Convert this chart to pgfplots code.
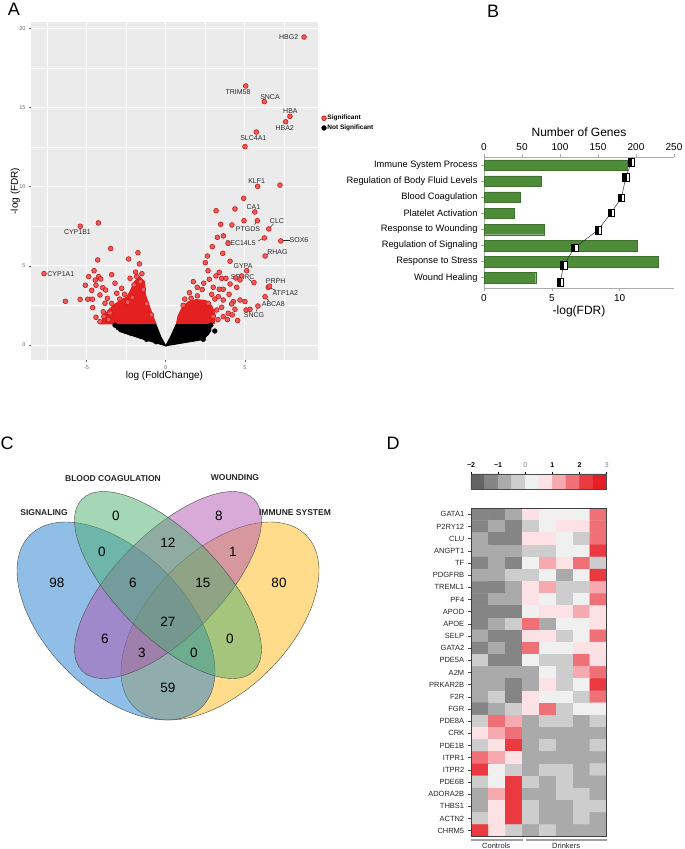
\documentclass[border=0pt]{standalone}
\usepackage{fontspec}
\setmainfont{Liberation Sans}
\usepackage{pgfplots}
\pgfplotsset{compat=1.18}
\usetikzlibrary{plotmarks,shapes.geometric}
\definecolor{ggbg}{RGB}{235,235,235}
\definecolor{sigfill}{RGB}{236,92,92}
\definecolor{sigdraw}{RGB}{200,25,25}
\definecolor{sigarea}{RGB}{228,32,32}
\definecolor{barg}{RGB}{78,140,58}
\definecolor{vblue}{RGB}{35,125,205}
\definecolor{vgreen}{RGB}{75,175,110}
\definecolor{vpurple}{RGB}{175,85,175}
\definecolor{vyellow}{RGB}{255,185,25}
\definecolor{glab}{RGB}{40,40,40}
\newcommand{\fs}[1]{\fontsize{#1}{#1}\selectfont}
\tikzset{vennE/.style={ellipse, draw=black!70, line width=0.4pt, fill opacity=0.5, draw opacity=1, inner sep=0pt, outer sep=0pt}}
\pgfdeclareplotmark{hsq}{%
  \pgfpathrectangle{\pgfpoint{-\pgfplotmarksize}{-1.2\pgfplotmarksize}}{\pgfpoint{2\pgfplotmarksize}{2.4\pgfplotmarksize}}%
  \pgfsetfillcolor{white}\pgfusepath{fill,stroke}%
  \pgfpathrectangle{\pgfpoint{-\pgfplotmarksize}{-1.2\pgfplotmarksize}}{\pgfpoint{\pgfplotmarksize}{2.4\pgfplotmarksize}}%
  \pgfsetfillcolor{black}\pgfusepath{fill,stroke}%
}
\pgfplotsset{
  hmcolors/.style={colormap={hm}{rgb255=(100,100,100) rgb255=(133,133,133) rgb255=(170,170,170) rgb255=(205,205,205) rgb255=(240,240,240) rgb255=(252,226,228) rgb255=(246,170,176) rgb255=(240,112,120) rgb255=(234,58,64) rgb255=(228,30,36)}},
}
\begin{document}
\begin{tikzpicture}
\useasboundingbox (0,0) rectangle (685pt,-849pt);
% panel letters
\node[font=\fs{18}] at (14pt,-9pt) {A};
\node[font=\fs{18}] at (493pt,-11pt) {B};
\node[font=\fs{18}] at (7pt,-443pt) {C};
\node[font=\fs{18}] at (393pt,-443pt) {D};

% ---------------- Panel A: volcano ----------------
\begin{axis}[
  at={(31pt,-360pt)}, anchor=south west, scale only axis,
  width=287pt, height=338pt,
  xmin=-8.5, xmax=9.61, ymin=-0.95, ymax=20.4,
  axis background/.style={fill=ggbg},
  axis line style={draw=none},
  xtick={-5,0,5}, ytick={0,5,10,15,20},
  minor xtick={-7.5,-2.5,2.5,7.5}, minor ytick={2.5,7.5,12.5,17.5},
  grid=both,
  major grid style={white, line width=0.9pt},
  minor grid style={white, line width=0.45pt},
  tick pos=left, tick align=outside, major tick length=2pt, minor tick length=0pt,
  tick style={draw=gray!80!black, line width=0.5pt},
  /pgf/number format/assume math mode=true,
  tick label style={font=\fs{5.5}, text=gray!80!black},
  xlabel={log (FoldChange)}, ylabel={-log (FDR)},
  label style={font=\fs{10}},
  xlabel style={at={(axis description cs:0.465,-0.047)}, anchor=center},
  ylabel style={at={(axis description cs:-0.055,0.5)}, anchor=center},
  legend style={at={(axis description cs:1.012,0.728)}, anchor=north west, draw=none, fill=none,
    font=\fs{6.5}\bfseries, row sep=1.5pt, inner sep=0pt, nodes={inner sep=1pt}},
  legend cell align=left,
]
% dense clouds
\addplot[fill=black, draw=black, line width=1pt, forget plot] coordinates {
 (0,-0.05) (-1.6,0.42) (-2.9,0.85) (-3.25,1.2) (-3.1,1.38) (-0.65,1.38) (-0.3,0.5) (0,-0.05)} -- cycle;
\addplot[fill=black, draw=black, line width=1pt, forget plot] coordinates {
 (0,-0.05) (2.4,0.35) (2.85,0.9) (2.85,1.3) (0.7,1.38) (0.3,0.5) (0,-0.05)} -- cycle;
\addplot[fill=sigarea, draw=sigarea, line width=1.5pt, forget plot] coordinates {
 (-4.05,1.35) (-3.95,1.75) (-3.6,2.2) (-3.2,2.55) (-2.8,2.85) (-2.45,3.0) (-2.2,3.45) (-1.95,4.0)
 (-1.65,4.3) (-1.35,4.0) (-1.3,3.2) (-1.1,2.6) (-0.85,1.9) (-0.65,1.38)} -- cycle;
\addplot[fill=sigarea, draw=sigarea, line width=1.5pt, forget plot] coordinates {
 (0.7,1.38) (0.8,1.85) (1.05,2.35) (1.4,2.7) (1.9,2.85) (2.5,2.8) (2.9,2.45) (3.1,1.9) (3.05,1.38)} -- cycle;
% significant points
\addplot[only marks, mark=*, mark size=2.4pt, mark options={fill=sigfill, draw=sigdraw, line width=0.6pt}] coordinates {
 (8.73,19.45) (5.05,16.36) (6.22,15.37) (7.84,14.44) (7.57,14.10) (5.72,13.45) (5.00,12.53)
 (5.80,10.02) (7.21,10.10) (4.92,9.26) (5.62,8.40) (3.18,8.48) (4.37,8.59) (4.94,7.85) (5.78,7.85)
 (6.50,7.33) (3.47,7.62) (4.18,7.58) (3.64,6.89) (3.26,6.80) (6.22,6.76) (3.93,6.42) (7.26,6.57)
 (2.94,6.21) (3.60,5.79) (2.63,5.62) (6.27,5.62) (4.06,5.29) (2.50,5.20) (5.11,4.69) (2.67,4.69)
 (3.38,4.59) (3.17,4.36) (3.53,4.21) (3.80,4.21) (4.42,4.23) (4.79,4.36) (4.69,4.11) (5.57,3.94)
 (6.47,3.64) (6.55,3.72) (2.75,4.15) (1.74,4.00) (1.99,3.64) (3.00,3.64) (3.38,3.52) (3.63,3.52)
 (4.06,3.85) (4.48,3.64) (6.27,3.05) (5.82,2.46) (4.27,2.74) (4.69,2.84) (5.00,2.74) (5.07,2.21)
 (4.37,2.25) (3.95,2.00) (3.63,1.79) (4.16,2.59) (3.53,2.38) (3.22,2.21) (3.63,2.84) (3.32,3.05)
 (2.69,2.63) (5.32,2.25) (4.54,1.54) (3.90,1.60) (4.20,1.90) (2.90,3.20) (2.30,3.50) (1.50,3.30)
 (1.20,2.90) (2.00,3.10) (3.10,2.90) (4.00,3.20) (2.4,3.9) (1.1,2.5) (1.6,2.95) (3.3,1.6) (3.0,1.8)
 (-5.39,7.50) (-4.25,7.71) (-3.47,6.09) (-4.29,5.37) (-2.34,5.43) (-1.75,5.83) (-1.66,5.12)
 (-4.52,4.69) (-4.86,4.32) (-4.23,4.32) (-4.10,4.17) (-4.44,4.10) (-3.41,4.44) (-5.07,3.77)
 (-4.67,3.45) (-4.40,3.77) (-3.98,3.62) (-3.79,3.47) (-4.15,3.16) (-4.92,2.89) (-4.63,2.89)
 (-4.61,2.36) (-4.40,1.75) (-4.15,1.47) (-3.51,2.02) (-2.78,3.58) (-2.25,4.21) (-1.83,4.32)
 (-3.09,3.27) (-3.68,2.95) (-3.41,2.63) (-3.83,2.63) (-3.94,2.10) (-7.68,4.51) (-6.33,2.76)
 (-5.40,2.88) (-3.20,3.90) (-2.90,2.90) (-2.60,3.20) (-2.00,3.80) (-1.60,4.00) (-1.40,3.50)
 (-3.60,1.60) (-3.90,1.80) (-2.40,2.70) (-1.2,2.6) (-0.9,1.9) (-1.5,4.5) (-1.9,4.6) (-2.1,3.0)
};
\addlegendentry{Significant}
\addplot[only marks, mark=*, mark size=2.4pt, mark options={fill=black, draw=black}] coordinates {
 (3.10,0.88) (2.37,0.36) (2.70,1.05) (2.85,1.25) (-3.20,1.25) (-3.00,1.10) (-2.60,0.90)
 (-2.20,0.75) (2.20,0.50) (1.80,0.40) (-1.20,0.35) (-0.60,0.20) (0.50,0.15) (1.20,0.30) (2.60,0.75)
};
\addlegendentry{Not Significant}
% gene labels
\begin{scope}[every node/.style={font=\fs{7}, text=glab, inner sep=0.5pt}]
\node at (axis cs:7.76,19.43) {HBG2};
\node at (axis cs:4.56,15.96) {TRIM58};
\node at (axis cs:6.58,15.66) {SNCA};
\node at (axis cs:7.87,14.78) {HBA};
\node at (axis cs:7.51,13.73) {HBA2};
\node at (axis cs:5.53,13.07) {SLC4A1};
\node at (axis cs:5.74,10.34) {KLF1};
\node at (axis cs:5.53,8.74) {CA1};
\node at (axis cs:5.19,7.35) {PTGDS};
\node at (axis cs:7.02,7.85) {CLC};
\node at (axis cs:4.73,6.42) {SEC14L5};
\node at (axis cs:8.41,6.61) {SOX6};
\node at (axis cs:7.05,5.89) {RHAG};
\node at (axis cs:4.88,5.01) {GYPA};
\node at (axis cs:4.86,4.29) {SPARC};
\node at (axis cs:6.94,4.06) {PRPH};
\node at (axis cs:7.55,3.26) {ATP1A2};
\node at (axis cs:6.79,2.59) {ABCA8};
\node at (axis cs:5.57,1.87) {SNCG};
\node at (axis cs:-5.57,7.12) {CYP1B1};
\node at (axis cs:-6.62,4.46) {CYP1A1};
\end{scope}
\draw[glab, line width=0.5pt] (axis cs:7.35,6.61) -- (axis cs:7.85,6.61);
\draw[glab, line width=0.5pt] (axis cs:6.55,7.38) -- (axis cs:6.8,7.65);
\draw[glab, line width=0.5pt] (axis cs:5.75,7.8) -- (axis cs:5.6,7.6);
\draw[glab, line width=0.5pt] (axis cs:6.15,6.74) -- (axis cs:5.8,6.55);
\draw[glab, line width=0.5pt] (axis cs:6.3,5.66) -- (axis cs:6.55,5.8);
\draw[glab, line width=0.5pt] (axis cs:6.3,3.0) -- (axis cs:6.5,2.8);
\draw[glab, line width=0.5pt] (axis cs:5.8,2.4) -- (axis cs:5.72,2.12);
\draw[glab, line width=0.5pt] (axis cs:6.6,3.6) -- (axis cs:6.95,3.45);
\draw[glab, line width=0.5pt] (axis cs:5.5,3.95) -- (axis cs:5.25,4.15);
\end{axis}

% ---------------- Panel B ----------------
\begin{axis}[
  at={(484pt,-288pt)}, anchor=south west, scale only axis, width=190pt, height=131pt,
  xbar, bar width=10.5pt,
  xmin=0, xmax=250, ymin=-0.5, ymax=7.64, y dir=reverse,
  axis x line=top, axis y line=left,
  axis line style={-, draw=gray!65, line width=0.6pt},
  xtick={0,50,...,250}, ytick={0,...,7},
  yticklabels={Immune System Process, Regulation of Body Fluid Levels, Blood Coagulation, Platelet Activation, Response to Wounding, Regulation of Signaling, Response to Stress, Wound Healing},
  tick align=outside, major tick length=3pt, tick style={draw=gray!65, line width=0.6pt},
  /pgf/number format/assume math mode=true,
  xticklabel style={font=\fs{10}},
  yticklabel style={font=\fs{9.3}},
  xlabel={Number of Genes}, xlabel style={font=\fs{12}},
]
\addplot[fill=barg, draw=barg!80!black, line width=0.3pt] coordinates {
 (188,0) (75,1) (48,2) (40,3) (79,4) (202,5) (229,6) (68,7)};
\end{axis}
\begin{axis}[
  at={(484pt,-288pt)}, anchor=south west, scale only axis, width=190pt, height=131pt,
  xmin=0, xmax=14.0, ymin=-0.5, ymax=7.64, y dir=reverse,
  axis x line=bottom, axis y line=none,
  axis line style={-, draw=gray!65, line width=0.6pt},
  xtick={0,5,10}, ytick=\empty,
  tick align=outside, major tick length=3pt, tick style={draw=gray!65, line width=0.6pt},
  /pgf/number format/assume math mode=true,
  xticklabel style={font=\fs{10}},
  xlabel={-log(FDR)}, xlabel style={font=\fs{12}, yshift=3pt},
  clip=false,
]
\addplot[draw=gray!40!black, line width=0.5pt, mark=hsq, mark size=3.2pt,
  mark options={draw=black, solid, line width=0.4pt}] coordinates {
 (10.86,-0.17) (10.45,0.75) (10.13,2.03) (9.37,2.96) (8.40,4.04) (6.67,5.14) (5.86,6.23) (5.62,7.30)};
\end{axis}

% ---------------- Panel C: Venn ----------------
\begin{axis}[at={(0pt,-730pt)}, anchor=south west, scale only axis, width=340pt, height=290pt,
  xmin=0, xmax=340, ymin=-730, ymax=-440, hide axis, clip=false]
\addplot[draw=none, forget plot] coordinates {(0,-730) (340,-440)};
\node[vennE, fill=vyellow, minimum width=243pt, minimum height=139pt, rotate=45] at (axis cs:220,-621) {};
\node[vennE, fill=vblue, minimum width=243pt, minimum height=139pt, rotate=-45] at (axis cs:116,-621) {};
\node[vennE, fill=vpurple, minimum width=243pt, minimum height=104pt, rotate=45] at (axis cs:168,-585) {};
\node[vennE, fill=vgreen, minimum width=243pt, minimum height=104pt, rotate=-45] at (axis cs:168,-585) {};
\begin{scope}[every node/.style={font=\fs{13.5}}]
\node at (axis cs:57,-583) {98};
\node at (axis cs:116,-516) {0};
\node at (axis cs:219,-516) {8};
\node at (axis cs:279,-583) {80};
\node at (axis cs:102,-552) {0};
\node at (axis cs:168,-543) {12};
\node at (axis cs:233,-552) {1};
\node at (axis cs:133,-583) {6};
\node at (axis cs:203,-583) {15};
\node at (axis cs:168,-622) {27};
\node at (axis cs:105,-639) {6};
\node at (axis cs:230,-639) {0};
\node at (axis cs:142,-653) {3};
\node at (axis cs:194,-653) {0};
\node at (axis cs:168,-688) {59};
\end{scope}
\begin{scope}[every node/.style={font=\fs{8.5}\bfseries, text=black!85}]
\node at (axis cs:44,-513) {SIGNALING};
\node at (axis cs:113,-479) {BLOOD COAGULATION};
\node at (axis cs:235,-478) {WOUNDING};
\node at (axis cs:295,-513) {IMMUNE SYSTEM};
\end{scope}
\end{axis}

% ---------------- Panel D: colour key ----------------
\begin{axis}[at={(471pt,-489.3pt)}, anchor=south west, scale only axis, width=135.7pt, height=15.3pt,
  hmcolors,
  xmin=-0.5, xmax=9.5, ymin=-0.5, ymax=0.5,
  xtick={-0.5,1.5,3.5,5.5,7.5,9.5},
  xticklabels={\textbf{−2},\textbf{−1},{\color{gray}0},\textbf{1},\textbf{2},{\color{gray}3}},
  xtick pos=right, ytick=\empty,
  tick align=outside, major tick length=2.5pt, tick style={draw=black, line width=0.6pt},
  xticklabel style={font=\fs{7}},
  axis line style={draw=black!70, line width=0.5pt}, axis on top, clip=false]
\addplot[matrix plot*, mesh/cols=10, point meta=explicit, colormap access=direct] coordinates {
 (0,-0.25)[0] (1,-0.25)[1] (2,-0.25)[2] (3,-0.25)[3] (4,-0.25)[4] (5,-0.25)[5] (6,-0.25)[6] (7,-0.25)[7] (8,-0.25)[8] (9,-0.25)[9]
 (0,0.25)[0] (1,0.25)[1] (2,0.25)[2] (3,0.25)[3] (4,0.25)[4] (5,0.25)[5] (6,0.25)[6] (7,0.25)[7] (8,0.25)[8] (9,0.25)[9]
};
\end{axis}

% ---------------- Panel D: heatmap ----------------
\begin{axis}[at={(471.7pt,-836.7pt)}, anchor=south west, scale only axis, width=135pt, height=328.4pt,
  hmcolors,
  xmin=-0.5, xmax=7.5, ymin=-0.5, ymax=26.5, y dir=reverse,
  xtick=\empty, ytick={0,...,26},
  yticklabels={GATA1,P2RY12,CLU,ANGPT1,TF,PDGFRB,TREML1,PF4,APOD,APOE,SELP,GATA2,PDE5A,A2M,PRKAR2B,F2R,FGR,PDE8A,CRK,PDE1B,ITPR1,ITPR2,PDE6B,ADORA2B,THBS1,ACTN2,CHRM5},
  ytick pos=left, tick align=outside, major tick length=4pt,
  tick style={draw=gray!60!black, line width=0.5pt},
  yticklabel style={font=\fs{7.5}, text=black!85},
  axis line style={draw=black!75, line width=1pt},
  clip=false, axis on top]
\addplot[matrix plot*, mesh/cols=8, point meta=explicit, colormap access=direct] coordinates {
 (0,0)[1] (1,0)[1] (2,0)[2] (3,0)[5] (4,0)[4] (5,0)[4] (6,0)[4] (7,0)[7]
 (0,1)[1] (1,1)[2] (2,1)[1] (3,1)[3] (4,1)[4] (5,1)[5] (6,1)[5] (7,1)[7]
 (0,2)[2] (1,2)[1] (2,2)[1] (3,2)[5] (4,2)[5] (5,2)[4] (6,2)[3] (7,2)[7]
 (0,3)[2] (1,3)[2] (2,3)[2] (3,3)[3] (4,3)[3] (5,3)[4] (6,3)[4] (7,3)[8]
 (0,4)[1] (1,4)[2] (2,4)[1] (3,4)[4] (4,4)[6] (5,4)[5] (6,4)[7] (7,4)[3]
 (0,5)[2] (1,5)[2] (2,5)[3] (3,5)[3] (4,5)[4] (5,5)[2] (6,5)[4] (7,5)[8]
 (0,6)[1] (1,6)[1] (2,6)[2] (3,6)[5] (4,6)[6] (5,6)[3] (6,6)[3] (7,6)[6]
 (0,7)[1] (1,7)[2] (2,7)[2] (3,7)[5] (4,7)[4] (5,7)[3] (6,7)[4] (7,7)[7]
 (0,8)[1] (1,8)[1] (2,8)[1] (3,8)[4] (4,8)[5] (5,8)[5] (6,8)[6] (7,8)[5]
 (0,9)[1] (1,9)[2] (2,9)[3] (3,9)[7] (4,9)[2] (5,9)[4] (6,9)[4] (7,9)[5]
 (0,10)[2] (1,10)[1] (2,10)[1] (3,10)[5] (4,10)[5] (5,10)[3] (6,10)[4] (7,10)[7]
 (0,11)[1] (1,11)[2] (2,11)[1] (3,11)[7] (4,11)[4] (5,11)[4] (6,11)[5] (7,11)[5]
 (0,12)[3] (1,12)[1] (2,12)[1] (3,12)[4] (4,12)[3] (5,12)[3] (6,12)[7] (7,12)[5]
 (0,13)[2] (1,13)[2] (2,13)[2] (3,13)[2] (4,13)[4] (5,13)[3] (6,13)[6] (7,13)[7]
 (0,14)[2] (1,14)[2] (2,14)[1] (3,14)[2] (4,14)[5] (5,14)[3] (6,14)[4] (7,14)[8]
 (0,15)[2] (1,15)[3] (2,15)[1] (3,15)[5] (4,15)[4] (5,15)[4] (6,15)[3] (7,15)[7]
 (0,16)[1] (1,16)[2] (2,16)[3] (3,16)[5] (4,16)[7] (5,16)[3] (6,16)[4] (7,16)[4]
 (0,17)[3] (1,17)[7] (2,17)[6] (3,17)[2] (4,17)[3] (5,17)[3] (6,17)[2] (7,17)[3]
 (0,18)[5] (1,18)[6] (2,18)[7] (3,18)[2] (4,18)[2] (5,18)[2] (6,18)[2] (7,18)[2]
 (0,19)[3] (1,19)[5] (2,19)[8] (3,19)[2] (4,19)[3] (5,19)[2] (6,19)[2] (7,19)[3]
 (0,20)[7] (1,20)[6] (2,20)[5] (3,20)[2] (4,20)[2] (5,20)[2] (6,20)[2] (7,20)[2]
 (0,21)[8] (1,21)[4] (2,21)[3] (3,21)[2] (4,21)[3] (5,21)[3] (6,21)[2] (7,21)[3]
 (0,22)[3] (1,22)[4] (2,22)[8] (3,22)[3] (4,22)[2] (5,22)[3] (6,22)[2] (7,22)[2]
 (0,23)[2] (1,23)[6] (2,23)[8] (3,23)[2] (4,23)[2] (5,23)[3] (6,23)[3] (7,23)[2]
 (0,24)[2] (1,24)[5] (2,24)[8] (3,24)[3] (4,24)[2] (5,24)[2] (6,24)[3] (7,24)[3]
 (0,25)[3] (1,25)[5] (2,25)[8] (3,25)[3] (4,25)[2] (5,25)[2] (6,25)[3] (7,25)[2]
 (0,26)[8] (1,26)[5] (2,26)[3] (3,26)[2] (4,26)[3] (5,26)[2] (6,26)[2] (7,26)[2]
};
\draw[gray!75, line width=1.6pt] (axis cs:-0.56,26.78) -- (axis cs:2.52,26.78);
\draw[gray!75, line width=1.6pt] (axis cs:2.72,26.78) -- (axis cs:7.5,26.78);
\node[font=\fs{7.5}, text=black!85] at (axis cs:0.95,27.25) {Controls};
\node[font=\fs{7.5}, text=black!85] at (axis cs:5.1,27.25) {Drinkers};
\end{axis}
\end{tikzpicture}
\end{document}
